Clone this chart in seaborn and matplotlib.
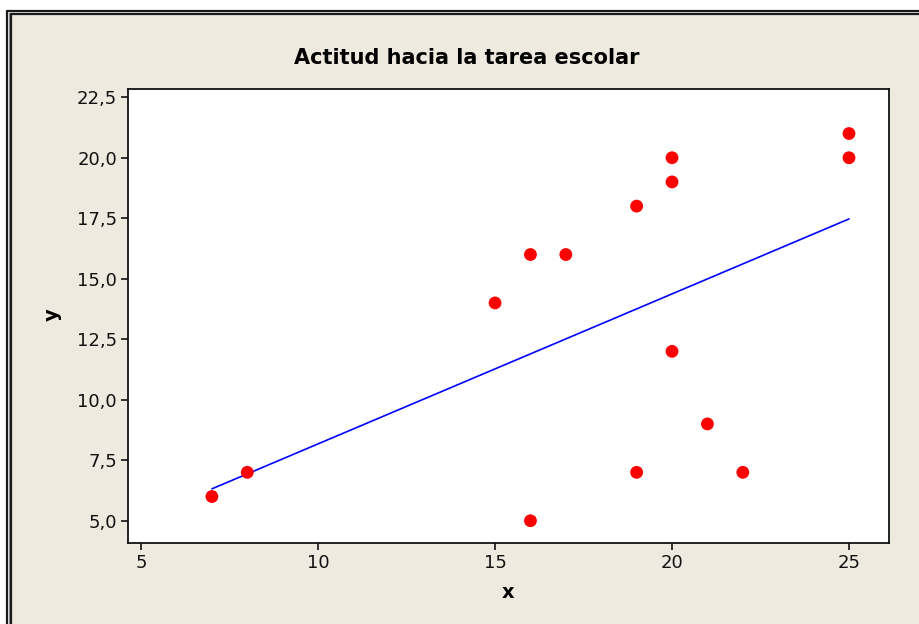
import matplotlib
matplotlib.use("Agg")
import matplotlib.pyplot as plt
import seaborn as sns
import pandas as pd
from matplotlib.lines import Line2D
from matplotlib.patches import Rectangle
from matplotlib.ticker import FuncFormatter

x_vals = [7, 8, 15, 16, 16, 17, 19, 19, 20, 20, 20, 21, 22, 25, 25]
y_vals = [6, 7, 14, 16, 5, 16, 18, 7, 20, 19, 12, 9, 7, 21, 20]
title = "Actitud hacia la tarea escolar"
x_ticks = [5, 10, 15, 20, 25]
y_ticks = [5.0, 7.5, 10.0, 12.5, 15.0, 17.5, 20.0, 22.5]

df = pd.DataFrame({"x": x_vals, "y": y_vals})

sns.set_theme(style="white")
plt.rcParams["font.family"] = ["DejaVu Sans"]

W, H = 920, 624
fig = plt.figure(figsize=(W / 100, H / 100), dpi=100, facecolor="white")

def fx(px):
    return px / W

def fy(py):
    return 1 - py / H

# Beige background and double frame
bg = "#EEEAE0"
fig.add_artist(Rectangle((fx(12), 0), 1, fy(15), transform=fig.transFigure,
                         facecolor=bg, edgecolor="none", zorder=0))
for xp, top, col, lw in [(6.8, 10.8, "#1a1a1a", 1.6), (8.6, 12.6, "#9a9a9a", 1.0),
                         (10.6, 14.2, "#1a1a1a", 1.6)]:
    fig.add_artist(Line2D([fx(xp), fx(xp)], [0, fy(top)], transform=fig.transFigure,
                          color=col, lw=lw, zorder=1))
    fig.add_artist(Line2D([fx(xp), 1], [fy(top), fy(top)], transform=fig.transFigure,
                          color=col, lw=lw, zorder=1))

ax = fig.add_axes([fx(128), fy(543), fx(889) - fx(128), fy(89) - fy(543)])
ax.set_facecolor("white")

sns.regplot(data=df, x="x", y="y", ax=ax, scatter=False, ci=None, truncate=True,
            line_kws={"color": "#0000FF", "lw": 1.2})
sns.scatterplot(data=df, x="x", y="y", ax=ax, color="#FF0000", s=85,
                edgecolor="none", linewidth=0, zorder=3)

ax.set_xlim(4.63, 26.13)
ax.set_ylim(4.08, 22.84)
ax.set_xticks(x_ticks)
ax.set_yticks(y_ticks)
ax.xaxis.set_major_formatter(FuncFormatter(lambda v, p: f"{v:.0f}"))
ax.yaxis.set_major_formatter(FuncFormatter(lambda v, p: f"{v:.1f}".replace(".", ",")))
ax.tick_params(axis="both", direction="out", length=5, width=1.2, color="#111111",
               labelsize=13, labelcolor="#111111", pad=3,
               bottom=True, left=True)
for s in ax.spines.values():
    s.set_color("#111111")
    s.set_linewidth(1.3)
ax.set_xlabel("")
ax.set_ylabel("")

fig.text(fx(467), fy(58), title, ha="center", va="center", fontsize=15,
         fontweight="bold", color="#000000")
fig.text(fx(508), fy(592), "x", ha="center", va="center", fontsize=14,
         fontweight="bold", color="#000000")
fig.text(fx(52), fy(315), "y", ha="center", va="center", fontsize=14,
         fontweight="bold", color="#000000", rotation=90)

fig.savefig("out.png", dpi=100, facecolor="white")
